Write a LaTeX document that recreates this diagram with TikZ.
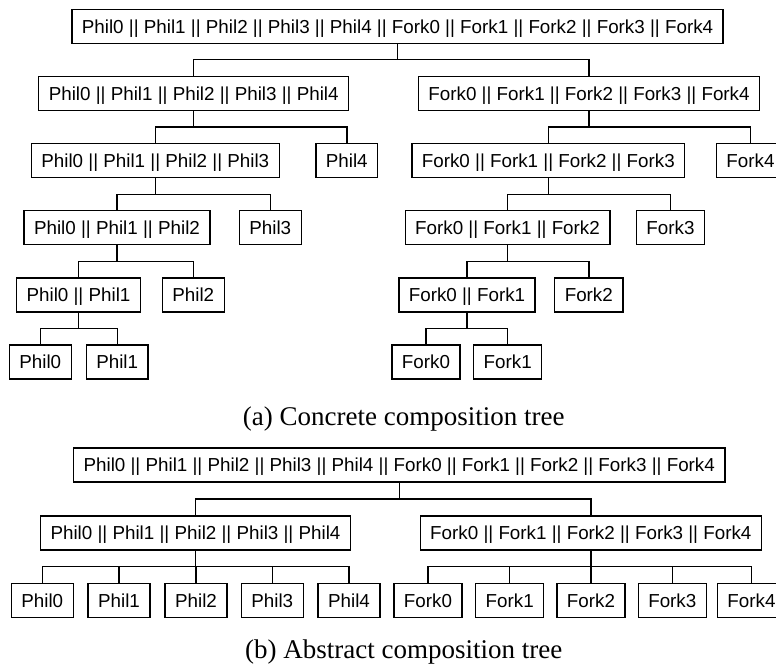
\documentclass[tikz,border=0pt]{standalone}
\usepackage{fontspec}
\setmainfont{Liberation Serif}
\newfontfamily\boxfont{Liberation Sans}
\usetikzlibrary{calc}
\tikzset{
  tbox/.style={draw, line width=1.4pt, font=\boxfont\fontsize{18.8}{22}\selectfont,
    minimum height=34pt, inner xsep=10pt, inner ysep=0pt, text height=13.6pt, text depth=0pt, anchor=center},
  conn/.style={line width=1.4pt, to path={(\tikztostart) |- ($(\tikztostart)!0.5!(\tikztotarget)$) -| (\tikztotarget)}},
  captext/.style={font=\fontsize{27}{31}\selectfont, anchor=base}
}
\begin{document}
\begin{tikzpicture}[x=1pt,y=-1pt]
\useasboundingbox (0,0) rectangle (776,666);
% ---- tree (a)
\node[tbox] (ar) at (397.5,26.3) {Phil0 || Phil1 || Phil2 || Phil3 || Phil4 || Fork0 || Fork1 || Fork2 || Fork3 || Fork4};
\node[tbox] (ap5) at (193.7,93.3) {Phil0 || Phil1 || Phil2 || Phil3 || Phil4};
\node[tbox] (af5) at (589,93.3) {Fork0 || Fork1 || Fork2 || Fork3 || Fork4};
\node[tbox] (ap4) at (155.3,160.7) {Phil0 || Phil1 || Phil2 || Phil3};
\node[tbox] (aph4) at (346.8,160.7) {Phil4};
\node[tbox] (af4) at (548.3,160.7) {Fork0 || Fork1 || Fork2 || Fork3};
\node[tbox] (afk4) at (750.5,160.7) {Fork4};
\node[tbox] (ap3) at (117,227.7) {Phil0 || Phil1 || Phil2};
\node[tbox] (aph3) at (270.3,227.7) {Phil3};
\node[tbox] (af3) at (507.5,227.7) {Fork0 || Fork1 || Fork2};
\node[tbox] (afk3) at (670.5,227.7) {Fork3};
\node[tbox] (ap2) at (78.5,294.8) {Phil0 || Phil1};
\node[tbox] (aph2) at (193.3,294.8) {Phil2};
\node[tbox] (af2) at (467,294.8) {Fork0 || Fork1};
\node[tbox] (afk2) at (588.8,294.8) {Fork2};
\node[tbox] (aph0) at (40.3,362) {Phil0};
\node[tbox] (aph1) at (117.2,362) {Phil1};
\node[tbox] (afk0) at (426,362) {Fork0};
\node[tbox] (afk1) at (507.7,362) {Fork1};
\draw[conn] (ar.south) to (ap5.north);
\draw[conn] (ar.south) to (af5.north);
\draw[conn] (ap5.south) to (ap4.north);
\draw[conn] (ap5.south) to (aph4.north);
\draw[conn] (af5.south) to (af4.north);
\draw[conn] (af5.south) to (afk4.north);
\draw[conn] (ap4.south) to (ap3.north);
\draw[conn] (ap4.south) to (aph3.north);
\draw[conn] (af4.south) to (af3.north);
\draw[conn] (af4.south) to (afk3.north);
\draw[conn] (ap3.south) to (ap2.north);
\draw[conn] (ap3.south) to (aph2.north);
\draw[conn] (af3.south) to (af2.north);
\draw[conn] (af3.south) to (afk2.north);
\draw[conn] (ap2.south) to (aph0.north);
\draw[conn] (ap2.south) to (aph1.north);
\draw[conn] (af2.south) to (afk0.north);
\draw[conn] (af2.south) to (afk1.north);
\node[captext] (capa) at (403.7,425.7) {(a) Concrete composition tree};
% ---- tree (b)
\node[tbox] (br) at (399.2,465) {Phil0 || Phil1 || Phil2 || Phil3 || Phil4 || Fork0 || Fork1 || Fork2 || Fork3 || Fork4};
\node[tbox] (bp5) at (195.5,532.8) {Phil0 || Phil1 || Phil2 || Phil3 || Phil4};
\node[tbox] (bf5) at (590.8,532.8) {Fork0 || Fork1 || Fork2 || Fork3 || Fork4};
\node[tbox] (bph0) at (42.3,600.3) {Phil0};
\node[tbox] (bph1) at (119,600.3) {Phil1};
\node[tbox] (bph2) at (196,600.3) {Phil2};
\node[tbox] (bph3) at (272.3,600.3) {Phil3};
\node[tbox] (bph4) at (349,600.3) {Phil4};
\node[tbox] (bfk0) at (428,600.3) {Fork0};
\node[tbox] (bfk1) at (509.7,600.3) {Fork1};
\node[tbox] (bfk2) at (591,600.3) {Fork2};
\node[tbox] (bfk3) at (672.3,600.3) {Fork3};
\node[tbox] (bfk4) at (751.5,600.3) {Fork4};
\draw[conn] (br.south) to (bp5.north);
\draw[conn] (br.south) to (bf5.north);
\foreach \c in {bph0,bph1,bph2,bph3,bph4} \draw[conn] (bp5.south) to (\c.north);
\foreach \c in {bfk0,bfk1,bfk2,bfk3,bfk4} \draw[conn] (bf5.south) to (\c.north);
\node[captext] (capb) at (403.7,658.7) {(b) Abstract composition tree};
\end{tikzpicture}
\end{document}
